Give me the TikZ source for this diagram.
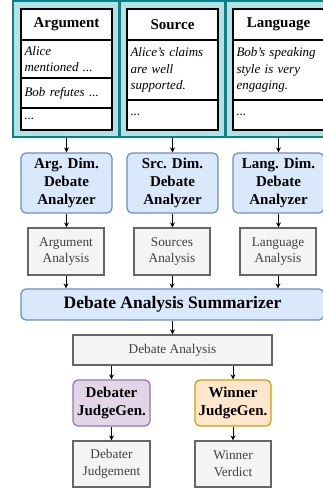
\documentclass[tikz,border=0pt]{standalone}
\usepackage{fontspec}
\setmainfont{Liberation Serif}
\usetikzlibrary{arrows.meta}
\definecolor{tealfill}{HTML}{B0E3E6}
\definecolor{tealline}{HTML}{0E8088}
\definecolor{bluefill}{HTML}{DAE8FC}
\definecolor{blueline}{HTML}{6C8EBF}
\definecolor{grayfill}{HTML}{F5F5F5}
\definecolor{grayline}{HTML}{666666}
\definecolor{graytext}{HTML}{404040}
\definecolor{purplefill}{HTML}{E1D5E7}
\definecolor{purpleline}{HTML}{9673A6}
\definecolor{orangefill}{HTML}{FFE6CC}
\definecolor{orangeline}{HTML}{D79B00}
\tikzset{
  tealbox/.style={draw=tealline, fill=tealfill, line width=1.3pt, inner sep=0pt},
  cell/.style={draw=black, fill=white, line width=1.3pt, inner sep=0pt, minimum width=91pt},
  hdr/.style={font=\fontsize{15}{18}\selectfont\bfseries},
  itxt/.style={font=\fontsize{13}{16.5}\selectfont\itshape, text width=84pt, align=left, inner sep=0pt},
  analyzer/.style={draw=blueline, fill=bluefill, line width=1.2pt, rounded corners=5pt, inner sep=0pt,
     align=center, font=\fontsize{15}{18}\selectfont\bfseries},
  result/.style={draw=grayline, fill=grayfill, line width=1.2pt, inner sep=0pt, align=center,
     text=graytext, font=\fontsize{13.3}{16.7}\selectfont},
  judgeD/.style={draw=purpleline, fill=purplefill, line width=1.2pt, rounded corners=5pt, inner sep=0pt,
     align=center, font=\fontsize{15}{18}\selectfont\bfseries},
  judgeW/.style={draw=orangeline, fill=orangefill, line width=1.2pt, rounded corners=5pt, inner sep=0pt,
     align=center, font=\fontsize{15}{18}\selectfont\bfseries},
  arr/.style={-{Stealth[length=5pt,width=5pt]}, line width=0.9pt, black}
}
\begin{document}
\begin{tikzpicture}[x=1pt,y=-1pt]
\useasboundingbox (0,0) rectangle (323,488);
\clip (0,0) rectangle (323,488);
% teal containers
\node[tealbox, minimum width=106pt, minimum height=136pt] (tA) at (66,69) {};
\node[tealbox, minimum width=105pt, minimum height=136pt] (tB) at (172.5,69) {};
\node[tealbox, minimum width=106pt, minimum height=136pt] (tC) at (279,69) {};
% column A
\node[cell, minimum height=31pt] (hA) at (66.5,24.5) {};
\node[hdr] at (hA) {Argument};
\node[cell, minimum height=38pt] (rA1) at (66.5,59) {};
\node[itxt] at (rA1) {Alice\\mentioned ...};
\node[cell, minimum height=30pt] (rA2) at (66.5,93) {};
\node[itxt] at (rA2) {Bob refutes ...};
\node[cell, minimum height=22pt] (rA3) at (66.5,119) {};
\node[itxt] at (rA3) {...};
% column B
\node[cell, minimum height=31pt] (hB) at (172.5,24.5) {};
\node[hdr] at (hB) {Source};
\node[cell, minimum height=60pt] (rB1) at (172.5,70) {};
\node[itxt] at (rB1) {Alice's claims\\are well\\supported.};
\node[cell, minimum height=30pt] (rB2) at (172.5,115) {};
\node[itxt] at (rB2) {...};
% column C
\node[cell, minimum height=31pt] (hC) at (278.5,24.5) {};
\node[hdr] at (hC) {Language};
\node[cell, minimum height=60pt] (rC1) at (278.5,70) {};
\node[itxt] at (rC1) {Bob's speaking\\style is very\\engaging.};
\node[cell, minimum height=30pt] (rC2) at (278.5,115) {};
\node[itxt] at (rC2) {...};
% analyzers
\node[analyzer, minimum width=91pt, minimum height=60pt] (aA) at (66.5,183) {Arg. Dim.\\Debate\\Analyzer};
\node[analyzer, minimum width=91pt, minimum height=60pt] (aB) at (172.5,183) {Src. Dim.\\Debate\\Analyzer};
\node[analyzer, minimum width=91pt, minimum height=60pt] (aC) at (278.5,183) {Lang. Dim.\\Debate\\Analyzer};
% analyses
\node[result, minimum width=76pt, minimum height=47pt] (sA) at (66,251.5) {Argument\\Analysis};
\node[result, minimum width=76pt, minimum height=47pt] (sB) at (172,251.5) {Sources\\Analysis};
\node[result, minimum width=76pt, minimum height=47pt] (sC) at (278,251.5) {Language\\Analysis};
% summarizer
\node[analyzer, minimum width=303pt, minimum height=31pt, font=\fontsize{17.5}{20}\selectfont\bfseries] (sum) at (172.5,304.5) {Debate Analysis Summarizer};
% debate analysis
\node[result, minimum width=199pt, minimum height=30pt] (da) at (172.5,350) {Debate Analysis};
% judges
\node[judgeD, minimum width=77pt, minimum height=46pt] (jD) at (111.5,403) {Debater\\JudgeGen.};
\node[judgeW, minimum width=76pt, minimum height=46pt] (jW) at (233,403) {Winner\\JudgeGen.};
% outputs
\node[result, minimum width=77pt, minimum height=46pt] (oD) at (111.5,464) {Debater\\Judgement};
\node[result, minimum width=76pt, minimum height=46pt] (oW) at (233,464) {Winner\\Verdict};
% arrows
\draw[arr] (aA.north |- tA.south) -- (aA.north);
\draw[arr] (aB.north |- tB.south) -- (aB.north);
\draw[arr] (aC.north |- tC.south) -- (aC.north);
\draw[arr] (aA.south) -- (aA.south |- sA.north);
\draw[arr] (aB.south) -- (aB.south |- sB.north);
\draw[arr] (aC.south) -- (aC.south |- sC.north);
\draw[arr] (sA.south) -- (sA.south |- sum.north);
\draw[arr] (sB.south) -- (sB.south |- sum.north);
\draw[arr] (sC.south) -- (sC.south |- sum.north);
\draw[arr] (da.north |- sum.south) -- (da.north);
\draw[arr] (jD.north |- da.south) -- (jD.north);
\draw[arr] (jW.north |- da.south) -- (jW.north);
\draw[arr] (jD.south) -- (oD.north);
\draw[arr] (jW.south) -- (oW.north);
\end{tikzpicture}
\end{document}
